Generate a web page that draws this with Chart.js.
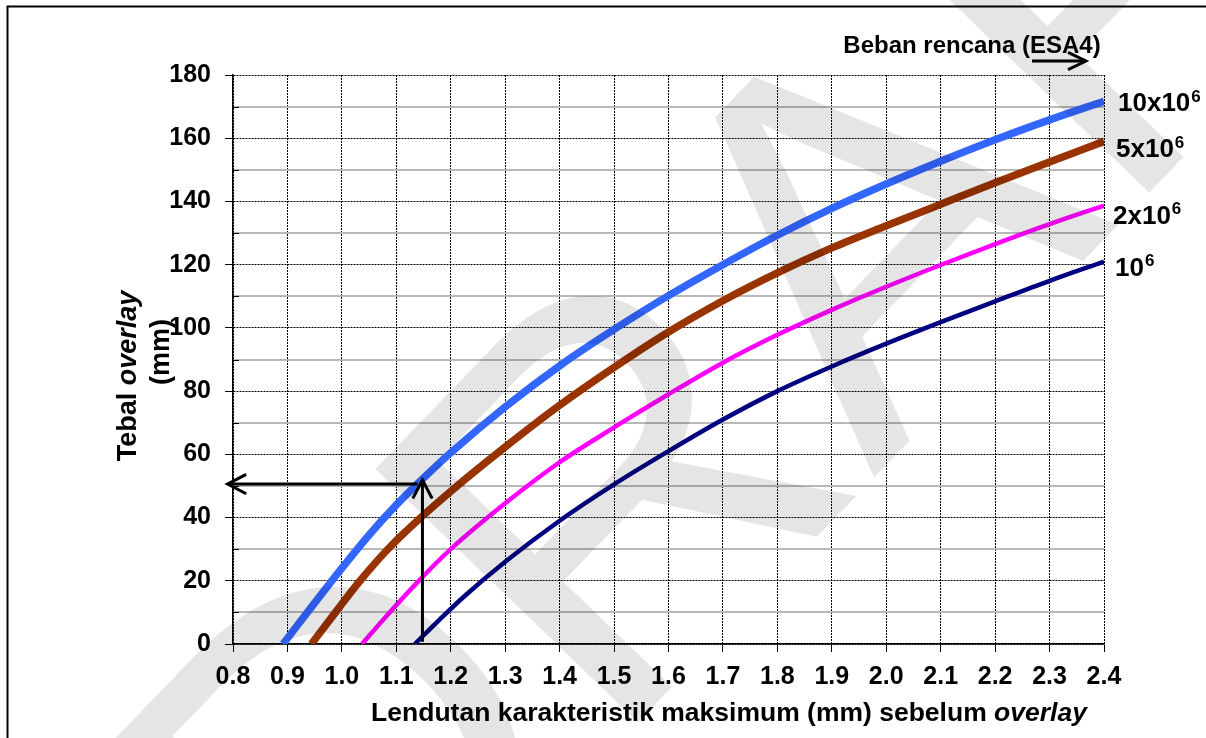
<!DOCTYPE html>
<html>
<head>
<meta charset="utf-8">
<script src="https://cdn.jsdelivr.net/npm/chart.js@4.4.1/dist/chart.umd.min.js"></script>
<style>
  html, body { margin: 0; padding: 0; background: #ffffff; }
  #wrap { position: relative; width: 1206px; height: 738px; }
  canvas { display: block; }
</style>
</head>
<body>
<div id="wrap"><canvas id="chart" width="1206" height="738"></canvas></div>
<script>
// Lendutan karakteristik maksimum (mm) vs tebal overlay (mm), per beban rencana (ESA4)
const xTickValues = [0.8, 0.9, 1.0, 1.1, 1.2, 1.3, 1.4, 1.5, 1.6, 1.7, 1.8, 1.9, 2.0, 2.1, 2.2, 2.3, 2.4];
const yTickValues = [0, 10, 20, 30, 40, 50, 60, 70, 80, 90, 100, 110, 120, 130, 140, 150, 160, 170, 180];

// 10x10^6 ESA
const defl10M  = [0.892, 0.95, 1.0, 1.05, 1.1, 1.15, 1.2, 1.3, 1.4, 1.5, 1.6, 1.7, 1.8, 1.9, 2.0, 2.1, 2.2, 2.3, 2.4];
const thick10M = [0, 13, 24, 34.5, 44, 52.5, 60.5, 75, 88, 99.5, 110.2, 120, 129.3, 137.8, 145.5, 152.7, 159.5, 165.8, 171.7];

// 5x10^6 ESA
const defl5M  = [0.944, 0.99, 1.03, 1.09, 1.145, 1.2, 1.3, 1.4, 1.5, 1.6, 1.7, 1.8, 1.9, 2.0, 2.1, 2.2, 2.3, 2.4];
const thick5M = [0, 10.4, 19.3, 31, 40, 48.3, 62.3, 75.5, 87.5, 98.7, 108.6, 117.4, 125.3, 132.3, 139.1, 145.9, 152.5, 159];

// 2x10^6 ESA
const defl2M  = [1.037, 1.08, 1.143, 1.2, 1.3, 1.4, 1.5, 1.6, 1.7, 1.8, 1.9, 2.0, 2.1, 2.2, 2.3, 2.4];
const thick2M = [0, 8.5, 20.3, 30, 44.5, 57.5, 68.5, 79, 89, 97.8, 105.7, 113, 119.9, 126.5, 132.8, 138.7];

// 10^6 ESA
const defl1M  = [1.134, 1.18, 1.223, 1.3, 1.4, 1.5, 1.6, 1.7, 1.8, 1.9, 2.0, 2.1, 2.2, 2.3, 2.4];
const thick1M = [0, 7.8, 14.8, 26, 39, 50.5, 61, 71, 80, 87.8, 95, 101.8, 108.4, 114.9, 121];

const seriesNames = ['10x10', '5x10', '2x10', '10'];
const seriesSup = ['6', '6', '6', '6'];

// Worked example: read deflection upward to the curve, then across to the thickness axis
const exampleDeflection = 1.148;
const exampleThickness = 50.6;
const exampleArrowTop = 51.9;
const exampleArrowBottom = 0.7;
const exampleArrowLeft = 0.79;
const exampleArrowRight = 1.139;

const FONT = '"Liberation Sans", Arial, Helvetica, sans-serif';

function toPoints(xs, ys) { return xs.map((x, i) => ({ x: x, y: ys[i] })); }

const datasets = [
  { label: '10x10^6', data: toPoints(defl10M, thick10M), borderColor: '#3366ff', borderWidth: 7.5 },
  { label: '5x10^6',  data: toPoints(defl5M, thick5M),   borderColor: '#993300', borderWidth: 7.5 },
  { label: '2x10^6',  data: toPoints(defl2M, thick2M),   borderColor: '#ff00ff', borderWidth: 4.5 },
  { label: '10^6',    data: toPoints(defl1M, thick1M),   borderColor: '#000080', borderWidth: 4.5 }
].map(d => Object.assign(d, {
  pointRadius: 0, pointHoverRadius: 0, fill: false,
  tension: 0.4, cubicInterpolationMode: 'monotone', borderCapStyle: 'butt'
}));

function drawArrow(ctx, x1, y1, x2, y2, len, ang) {
  const a = Math.atan2(y2 - y1, x2 - x1);
  ctx.beginPath();
  ctx.moveTo(x1, y1);
  ctx.lineTo(x2, y2);
  ctx.stroke();
  ctx.beginPath();
  ctx.moveTo(x2 - len * Math.cos(a - ang), y2 - len * Math.sin(a - ang));
  ctx.lineTo(x2, y2);
  ctx.lineTo(x2 - len * Math.cos(a + ang), y2 - len * Math.sin(a + ang));
  ctx.stroke();
}

function drawSup(ctx, base, sup, x, y, size) {
  ctx.font = 'bold ' + size + 'px ' + FONT;
  ctx.textAlign = 'left';
  ctx.textBaseline = 'alphabetic';
  ctx.fillText(base, x, y);
  const w = ctx.measureText(base).width;
  ctx.font = 'bold ' + Math.round(size * 0.66) + 'px ' + FONT;
  ctx.fillText(sup, x + w + 1, y - size * 0.36);
}

const overlayPlugin = {
  id: 'overlayNotes',
  afterDatasetsDraw(chart) {
    const ctx = chart.ctx;
    const xs = chart.scales.x, ys = chart.scales.y;
    ctx.save();

    // minor tick marks on the inner side of the thickness axis
    ctx.strokeStyle = '#000';
    ctx.lineWidth = 1;
    yTickValues.forEach(v => {
      if (v % 20 !== 0) {
        const py = Math.round(ys.getPixelForValue(v)) + 0.5;
        ctx.beginPath();
        ctx.moveTo(xs.left, py);
        ctx.lineTo(xs.left + 6, py);
        ctx.stroke();
      }
    });

    // worked-example arrows
    ctx.strokeStyle = '#000';
    ctx.lineWidth = 3;
    ctx.lineCap = 'butt';
    ctx.lineJoin = 'miter';
    const ax = xs.getPixelForValue(exampleDeflection);
    drawArrow(ctx, ax, ys.getPixelForValue(exampleArrowBottom), ax, ys.getPixelForValue(exampleArrowTop), 21, 0.48);
    const ay = ys.getPixelForValue(exampleThickness);
    drawArrow(ctx, xs.getPixelForValue(exampleArrowRight), ay, xs.getPixelForValue(exampleArrowLeft), ay, 21, 0.48);

    // series labels at the right-hand ends of the curves
    ctx.fillStyle = '#000';
    const ends = [
      { y: thick10M[thick10M.length - 1], dx: 14, dy: 8 },
      { y: thick5M[thick5M.length - 1],   dx: 12, dy: 14 },
      { y: thick2M[thick2M.length - 1],   dx: 9,  dy: 16 },
      { y: thick1M[thick1M.length - 1],   dx: 11, dy: 12 }
    ];
    ends.forEach((e, i) => {
      const py = ys.getPixelForValue(e.y);
      drawSup(ctx, seriesNames[i], seriesSup[i], xs.right + e.dx, py + e.dy + 2, 26);
    });

    // legend heading with direction arrow
    ctx.font = 'bold 24px ' + FONT;
    ctx.textAlign = 'center';
    ctx.textBaseline = 'alphabetic';
    ctx.fillText('Beban rencana (ESA4)', 972, 53);
    ctx.lineWidth = 3;
    drawArrow(ctx, 1032, 61, 1086, 61, 20, 0.45);

    // axis titles (with italic "overlay")
    function mixed(parts, cx, cy) {
      let total = 0;
      parts.forEach(p => { ctx.font = p.f; total += ctx.measureText(p.t).width; });
      let x = cx - total / 2;
      ctx.textAlign = 'left';
      parts.forEach(p => { ctx.font = p.f; ctx.fillText(p.t, x, cy); x += ctx.measureText(p.t).width; });
    }
    ctx.textBaseline = 'alphabetic';
    mixed([{ t: 'Lendutan karakteristik maksimum (mm) sebelum ', f: 'bold 26.5px ' + FONT },
           { t: 'overlay', f: 'italic bold 26.5px ' + FONT }], 729, 721);

    const yf = 'bold 27px ' + FONT, yi = 'italic bold 27px ' + FONT;
    ctx.save();
    ctx.translate(136, 376);
    ctx.rotate(-Math.PI / 2);
    mixed([{ t: 'Tebal ', f: yf }, { t: 'overlay', f: yi }], 0, 0);
    ctx.restore();
    ctx.save();
    ctx.translate(169, 352);
    ctx.rotate(-Math.PI / 2);
    mixed([{ t: '(mm)', f: yf }], 0, 0);
    ctx.restore();

    ctx.restore();
  },
  afterDraw(chart) {
    const ctx = chart.ctx;
    ctx.save();
    // page frame
    ctx.strokeStyle = '#000';
    ctx.lineWidth = 2;
    ctx.beginPath();
    ctx.moveTo(7.5, 745);
    ctx.lineTo(7.5, 6.5);
    ctx.lineTo(1215, 6.5);
    ctx.stroke();
    // draft watermark
    ctx.translate(850, 292);
    ctx.rotate(-46 * Math.PI / 180);
    ctx.font = '530px ' + FONT;
    ctx.textAlign = 'center';
    ctx.textBaseline = 'middle';
    ctx.fillStyle = 'rgba(0,0,0,0.10)';
    ctx.fillText('DRAFT', 0, 0);
    ctx.restore();
  }
};

const tickFont = { family: FONT, size: 25, weight: 'bold' };

new Chart(document.getElementById('chart'), {
  type: 'line',
  data: { datasets: datasets },
  plugins: [overlayPlugin],
  options: {
    responsive: false,
    animation: false,
    events: [],
    layout: { padding: { left: 0, top: 75, right: 102, bottom: 0 } },
    plugins: { legend: { display: false }, tooltip: { enabled: false }, title: { display: false } },
    scales: {
      x: {
        type: 'linear',
        min: 0.8, max: 2.4,
        afterBuildTicks: s => { s.ticks = xTickValues.map(v => ({ value: v })); },
        afterFit: s => { s.height = 94; },
        ticks: {
          font: tickFont, color: '#000', padding: 10, maxRotation: 0, autoSkip: false,
          callback: v => Number(v).toFixed(1)
        },
        grid: { color: '#000', lineWidth: 1, tickLength: 8, tickColor: '#000', tickWidth: 1 },
        border: { color: '#000', width: 1.5, dash: c => (c.tick ? [2, 1] : []) }
      },
      y: {
        type: 'linear',
        min: 0, max: 180,
        afterBuildTicks: s => { s.ticks = yTickValues.map(v => ({ value: v })); },
        afterFit: s => { s.width = 233; },
        ticks: {
          font: tickFont, color: '#000', padding: 14, autoSkip: false,
          callback: v => (v % 20 === 0 ? String(v) : '')
        },
        grid: {
          color: c => (c.tick && c.tick.value % 20 !== 0 ? '#b8b8b8' : '#000'),
          lineWidth: c => (c.tick && c.tick.value % 20 !== 0 ? 2 : 1),
          tickLength: 8,
          tickColor: c => (c.tick && c.tick.value % 20 !== 0 ? 'rgba(0,0,0,0)' : '#000'),
          tickWidth: 1
        },
        border: { color: '#000', width: 1.5, dash: c => (c.tick && c.tick.value % 20 === 0 ? [2, 1] : []) }
      }
    }
  }
});
</script>
</body>
</html>
